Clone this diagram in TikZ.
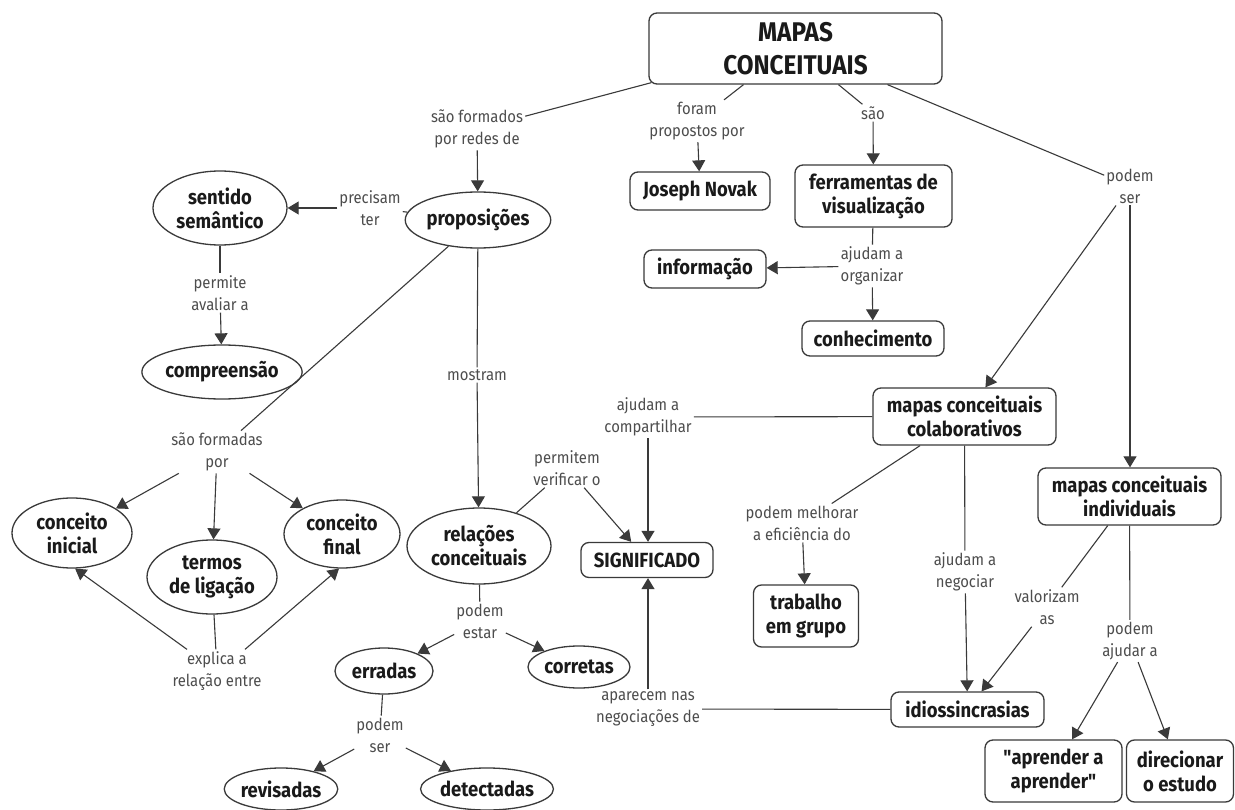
\documentclass[tikz,border=0pt]{standalone}
\usepackage{fontspec}
\setmainfont{Fira Sans}[FakeStretch=0.9]
% same face without the TeX input mapping, for straight quotation marks
\newfontfamily\straightq{Fira Sans}[FakeStretch=0.9]
\usetikzlibrary{arrows.meta,shapes.geometric,calc}

\definecolor{edgec}{HTML}{3A3A3A}
\definecolor{labelc}{HTML}{4D4D4D}
\definecolor{conceptc}{HTML}{1A1A1A}

\newcommand\conceptfnt{\bfseries\fontsize{20.5}{24}\selectfont}
\newcommand\titlefnt{\bfseries\fontsize{27}{33}\selectfont}
\newcommand\linkfnt{\fontsize{16.5}{22}\selectfont}
\newcommand\dq{{\straightq\bfseries"}}

\tikzset{
  boxc/.style={draw=edgec, line width=1.3pt, rounded corners=8pt, align=center,
    font=\conceptfnt, text=conceptc, inner sep=0pt},
  ovalc/.style={ellipse, draw=edgec, line width=1.3pt, align=center,
    font=\conceptfnt, text=conceptc, inner sep=0pt},
  linklabel/.style={font=\linkfnt, text=labelc, align=center, inner sep=2pt},
  conn/.style={draw=edgec, line width=1.1pt},
  arr/.style={conn, -{Triangle[length=11pt,width=13pt]}}
}

\begin{document}
\begin{tikzpicture}[x=1pt,y=-1pt]
\useasboundingbox[fill=white] (0,0) rectangle (1235,810);

% concepts in rounded boxes
\node[boxc, minimum width=293pt, minimum height=71pt, font=\titlefnt] (mapas) at (795.5,48.5) {MAPAS\\CONCEITUAIS};
\node[boxc, minimum width=140pt, minimum height=38pt] (novak) at (700,191) {Joseph Novak};
\node[boxc, minimum width=157pt, minimum height=62pt] (ferr) at (873.5,196) {ferramentas de\\visualização};
\node[boxc, minimum width=122pt, minimum height=38pt] (info) at (705,269) {informação};
\node[boxc, minimum width=142pt, minimum height=35pt] (conh) at (873,338.5) {conhecimento};
\node[boxc, minimum width=183pt, minimum height=57pt] (colab) at (964.5,416.5) {mapas conceituais\\colaborativos};
\node[boxc, minimum width=183pt, minimum height=57pt] (indiv) at (1129.5,496.5) {mapas conceituais\\individuais};
\node[boxc, minimum width=132pt, minimum height=35pt] (sig) at (647,560) {SIGNIFICADO};
\node[boxc, minimum width=105pt, minimum height=62pt] (trab) at (806,616) {trabalho\\em grupo};
\node[boxc, minimum width=153pt, minimum height=35pt] (idio) at (967.5,709.5) {idiossincrasias};
\node[boxc, minimum width=137pt, minimum height=62pt] (apr) at (1053.5,771) {\dq aprender a\\aprender\dq};
\node[boxc, minimum width=107pt, minimum height=62pt] (dir) at (1180,771) {direcionar\\o estudo};

% concepts in ellipses
\node[ovalc, minimum width=136pt, minimum height=56pt] (prop) at (478,220) {proposições};
\node[ovalc, minimum width=134pt, minimum height=74pt] (sent) at (220,208) {sentido\\semântico};
\node[ovalc, minimum width=146pt, minimum height=54pt] (comp) at (222,372) {compreensão};
\node[ovalc, minimum width=120pt, minimum height=70pt] (inic) at (72,533) {conceito\\inicial};
\node[ovalc, minimum width=130pt, minimum height=74pt] (term) at (212,577) {termos\\de ligação};
\node[ovalc, minimum width=116pt, minimum height=68pt] (fin) at (342,534) {conceito\\final};
\node[ovalc, minimum width=144pt, minimum height=76pt] (rel) at (479,546) {relações\\conceituais};
\node[ovalc, minimum width=102pt, minimum height=42pt] (corr) at (579,667) {corretas};
\node[ovalc, minimum width=98pt, minimum height=46pt] (err) at (384,671) {erradas};
\node[ovalc, minimum width=112pt, minimum height=42pt] (rev) at (281,789) {revisadas};
\node[ovalc, minimum width=122pt, minimum height=42pt] (det) at (487,789) {detectadas};

% linking phrases
\node[linklabel] (l1) at (477,129) {são formados\\por redes de};
\node[linklabel] (l2) at (697,121) {foram\\propostos por};
\node[linklabel] (l3) at (873,113) {são};
\node[linklabel] (l4) at (1130,186) {podem\\ser};
\node[linklabel] (l5) at (872,266) {ajudam a\\organizar};
\node[linklabel] (l6) at (370,208) {precisam\\ter};
\node[linklabel] (l7) at (220,293) {permite\\avaliar a};
\node[linklabel] (l8) at (217,452) {são formadas\\por};
\node[linklabel] (l9) at (217,671) {explica a\\relação entre};
\node[linklabel] (l10) at (477,375) {mostram};
\node[linklabel] (l11) at (567,468) {permitem\\verificar o};
\node[linklabel] (l12) at (648,417) {ajudam a\\compartilhar};
\node[linklabel] (l13) at (648,709) {aparecem nas\\negociações de};
\node[linklabel] (l14) at (480,621) {podem\\estar};
\node[linklabel] (l15) at (380,735) {podem\\ser};
\node[linklabel] (l16) at (802,523) {podem melhorar\\a eficiência do};
\node[linklabel] (l17) at (965,572) {ajudam a\\negociar};
\node[linklabel] (l18) at (1047,607) {valorizam\\as};
\node[linklabel] (l19) at (1130,641) {podem\\ajudar a};

% connectors from the main concept
\draw[conn] ($(mapas.south west)+(3,-2)$) -- (l1);
\draw[arr] (l1) -- (prop);
\draw[conn] ($(mapas.south)+(-52,0)$) -- (l2);
\draw[arr] (l2) -- (novak);
\draw[conn] ($(mapas.south)+(43,0)$) -- (l3);
\draw[arr] (l3) -- (ferr);
\draw[conn] ($(mapas.south)+(92,0)$) -- (l4);
\draw[arr] (l4) -- (colab);
\draw[arr] (l4.south) -- (l4.south |- indiv.north);

% visual tools
\draw[conn] (ferr) -- (l5);
\draw[arr] (l5) -- (info);
\draw[arr] (l5) -- (conh);

% propositions
\draw[conn] (prop) -- (l6);
\draw[arr] (l6) -- (sent);
\draw[conn] (sent) -- (l7);
\draw[arr] (l7) -- (comp);
\draw[conn] (prop) -- (l8);
\draw[arr] (l8) -- (inic);
\draw[arr] (l8) -- (term);
\draw[arr] (l8) -- (fin);
\draw[conn] (term) -- (l9);
\draw[arr] ($(l9.north)+(-30,0)$) -- (inic.-85);
\draw[arr] ($(l9.north)+(28,0)$) -- (fin.-95);
\draw[conn] (prop) -- (l10);
\draw[arr] (l10) -- (rel);

% conceptual relations
\draw[conn] (rel) -- (l11);
\draw[arr] (l11) -- (sig);
\draw[conn] (rel) -- (l14);
\draw[arr] (l14) -- (err);
\draw[arr] (l14) -- (corr);
\draw[conn] (err) -- (l15);
\draw[arr] (l15) -- (rev);
\draw[arr] (l15) -- (det);

% collaborative maps
\draw[conn] (colab) -- (l12);
\draw[arr] (l12.south) -- (l12.south |- sig.north);
\draw[conn] (colab) -- (l16);
\draw[arr] (l16) -- (trab);
\draw[conn] (colab) -- (l17);
\draw[arr] (l17) -- (idio);
\draw[conn] (idio) -- (l13);
\draw[arr] (l13.north) -- (l13.north |- sig.south);

% individual maps
\draw[conn] (indiv) -- (l18);
\draw[arr] (l18) -- (idio);
\draw[conn] (indiv) -- (l19);
\draw[arr] (l19) -- (apr);
\draw[arr] (l19) -- (dir);
\end{tikzpicture}
\end{document}
